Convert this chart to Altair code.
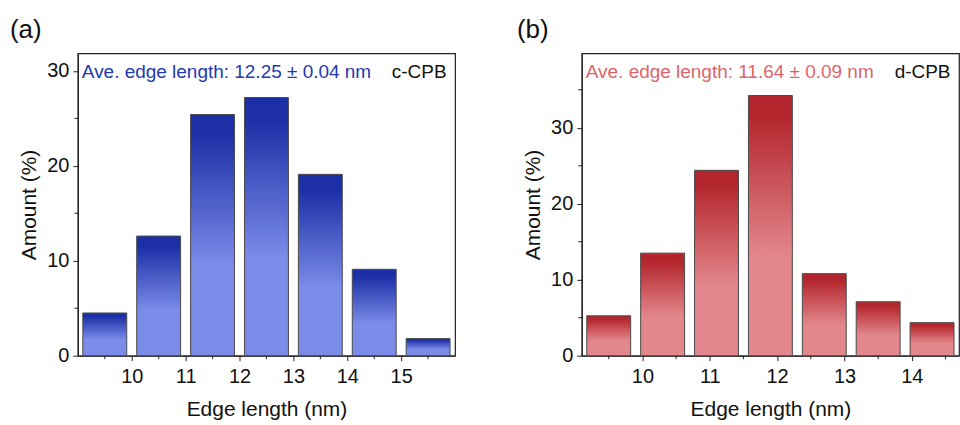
import altair as alt
import pandas as pd

FONT = "Liberation Sans"

# ---- data ----
c_centers = [9.5, 10.5, 11.5, 12.5, 13.5, 14.5, 15.5]
c_amount = [4.5, 12.6, 25.4, 27.2, 19.1, 9.1, 1.8]
d_centers = [9.5, 10.3, 11.1, 11.9, 12.7, 13.5, 14.3]
d_amount = [5.25, 13.5, 24.4, 34.25, 10.8, 7.1, 4.35]

c_xticks = [10, 11, 12, 13, 14, 15]
c_xminor = [9.5, 10.5, 11.5, 12.5, 13.5, 14.5, 15.5]
d_xticks = [10, 11, 12, 13, 14]
d_xminor = [9.5, 10.5, 11.5, 12.5, 13.5, 14.5]
yticks = [0, 10, 20, 30]
c_yminor = [5, 15, 25]
d_yminor = [5, 15, 25, 35]

c_note = "Ave. edge length: 12.25 ± 0.04 nm"
d_note = "Ave. edge length: 11.64 ± 0.09 nm"
c_name = "c-CPB"
d_name = "d-CPB"

W, H = 378, 303


def panel(centers, amount, xdom, ydom, xticks, xminor, yminor, note, name,
          label, dark, light, note_color, label_x):
    df = pd.DataFrame({"x": centers, "y": amount})
    xs = alt.Scale(domain=xdom, nice=False, zero=False, padding=0)
    ys = alt.Scale(domain=ydom, nice=False, padding=0)
    grad = alt.Gradient(
        gradient="linear",
        stops=[alt.GradientStop(color=dark, offset=0),
               alt.GradientStop(color=dark, offset=0.08),
               alt.GradientStop(color=light, offset=0.62),
               alt.GradientStop(color=light, offset=1)],
        x1=1, x2=1, y1=0, y2=1)
    bars = alt.Chart(df).mark_bar(color=grad, stroke="#4a4a4a", strokeWidth=1,
                                  size=44).encode(
        x=alt.X("x:Q", scale=xs,
                axis=alt.Axis(values=xticks, title="Edge length (nm)",
                              format="d", grid=False, tickSize=5,
                              labelPadding=6, titlePadding=12)),
        y=alt.Y("y:Q", scale=ys,
                axis=alt.Axis(values=yticks, title="Amount (%)",
                              format="d", grid=False, tickSize=5,
                              labelPadding=4, titlePadding=7)),
    )
    xm = alt.Chart(pd.DataFrame({"x": xminor})).mark_rule(
        color="#222", strokeWidth=1).encode(
        x=alt.X("x:Q", scale=xs), y=alt.value(H), y2=alt.value(H + 3.5))
    ym = alt.Chart(pd.DataFrame({"y": yminor})).mark_rule(
        color="#222", strokeWidth=1).encode(
        y=alt.Y("y:Q", scale=ys), x=alt.value(0), x2=alt.value(-3.5))
    t_note = alt.Chart(pd.DataFrame({"t": [note]})).mark_text(
        align="left", baseline="middle", fontSize=19, font=FONT,
        color=note_color).encode(text="t:N", x=alt.value(4), y=alt.value(19))
    t_name = alt.Chart(pd.DataFrame({"t": [name]})).mark_text(
        align="right", baseline="middle", fontSize=19, font=FONT,
        color="#111").encode(text="t:N", x=alt.value(W - 8.5), y=alt.value(19))
    t_lab = alt.Chart(pd.DataFrame({"t": [label]})).mark_text(
        align="left", baseline="alphabetic", fontSize=26, font=FONT,
        color="#111").encode(text="t:N", x=alt.value(label_x), y=alt.value(-15))
    return alt.layer(bars, xm, ym, t_note, t_name, t_lab).properties(
        width=W, height=H)


left = panel(c_centers, c_amount, [9.0, 16.0], [0, 31.85], c_xticks, c_xminor,
             c_yminor, c_note, c_name, "(a)", "#1c2fa6", "#7a8be8", "#2339b0", -68)
right = panel(d_centers, d_amount, [9.1, 14.7], [0, 39.8], d_xticks, d_xminor,
              d_yminor, d_note, d_name, "(b)", "#b4262d", "#e2878c", "#dc656b", -65)

chart = alt.hconcat(left, right, spacing=60).properties(
    padding={"left": 9, "top": 16, "right": 0, "bottom": 0}
).configure_view(stroke="#222", strokeWidth=1.2).configure_axis(
    labelFont=FONT, titleFont=FONT, labelFontSize=20, titleFontSize=21,
    labelColor="#111", titleColor="#111", titleFontWeight="normal",
    domainColor="#222", domainWidth=1.2, tickColor="#222", tickWidth=1
).configure_text(font=FONT)

chart.save("out.html", embed_options={"renderer": "svg", "actions": False})
